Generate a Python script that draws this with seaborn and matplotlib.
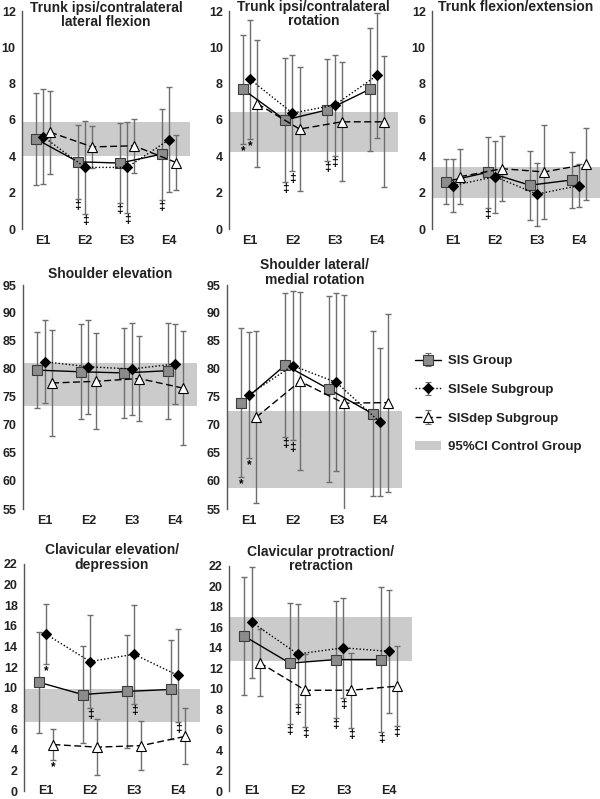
import numpy as np
import pandas as pd
import matplotlib
matplotlib.use("Agg")
import matplotlib.pyplot as plt
import seaborn as sns
from matplotlib.patches import Patch

# --- data ---
timepoints = ["E1", "E2", "E3", "E4"]
groups = ["SIS Group", "SISele Subgroup", "SISdep Subgroup"]
ci_label = "95%CI Control Group"

# rows: SIS, SISele, SISdep ; columns: E1..E4
latflex_mean = [[4.96, 3.70, 3.63, 4.12], [5.09, 3.39, 3.39, 4.91], [5.33, 4.52, 4.58, 3.66]]
latflex_sd = [[2.52, 2.04, 2.20, 2.50], [2.60, 2.54, 2.50, 2.90], [2.28, 1.15, 1.50, 1.50]]
latflex_ci = (4.03, 5.90)
latflex_sig = [(0, 1, "‡"), (1, 1, "‡"), (0, 2, "‡"), (1, 2, "‡"), (0, 3, "‡")]

rot_mean = [[7.69, 6.00, 6.56, 7.69], [8.24, 6.38, 6.82, 8.45], [6.90, 5.50, 5.90, 5.90]]
rot_sd = [[3.00, 3.40, 2.80, 3.40], [3.26, 3.20, 2.78, 3.44], [3.50, 3.40, 3.28, 3.60]]
rot_ci = (4.24, 6.42)
rot_sig = [(0, 0, "*"), (1, 0, "*"), (0, 1, "‡"), (1, 1, "‡"), (0, 2, "‡"), (1, 2, "‡")]

flexext_mean = [[2.61, 3.12, 2.41, 2.70], [2.39, 2.88, 1.92, 2.39], [2.88, 3.32, 3.14, 3.56]]
flexext_sd = [[1.26, 1.95, 1.90, 1.56], [1.48, 1.98, 1.73, 1.18], [1.50, 1.80, 2.60, 1.98]]
flexext_ci = (1.68, 3.39)
flexext_sig = [(0, 1, "‡")]

shelev_mean = [[79.8, 79.5, 79.3, 79.7], [81.3, 80.4, 80.0, 80.9], [77.5, 77.8, 78.3, 76.6]]
shelev_sd = [[6.85, 8.45, 8.10, 8.55], [7.40, 8.35, 8.30, 7.20], [9.50, 8.55, 7.60, 10.2]]
shelev_ci = (73.4, 81.0)
shelev_sig = []

shrot_mean = [[74.0, 80.7, 76.4, 72.0], [75.4, 80.6, 77.6, 70.5], [71.4, 77.8, 73.9, 74.0]]
shrot_sd = [[13.25, 12.8, 16.6, 14.7], [11.25, 13.3, 15.9, 13.25], [15.3, 15.9, 19.3, 15.9]]
shrot_ci = (58.8, 72.5)
shrot_sig = [(0, 0, "*"), (1, 0, "*"), (0, 1, "‡"), (1, 1, "‡")]

clelev_mean = [[10.55, 9.35, 9.65, 9.84], [15.2, 12.55, 13.25, 11.2], [4.50, 4.25, 4.40, 5.30]]
clelev_sd = [[4.90, 4.70, 5.50, 4.80], [2.90, 4.47, 4.80, 4.50], [1.50, 2.70, 2.40, 2.70]]
clelev_ci = (6.70, 9.84)
clelev_sig = [(1, 0, "*"), (2, 0, "*"), (1, 1, "‡"), (1, 2, "‡"), (1, 3, "‡")]

clprot_mean = [[15.15, 12.5, 12.85, 12.85], [16.5, 13.4, 14.0, 13.65], [12.55, 9.85, 9.85, 10.25]]
clprot_sd = [[5.80, 5.90, 5.70, 7.05], [5.45, 4.85, 4.90, 6.05], [3.30, 3.55, 3.65, 3.90]]
clprot_ci = (12.7, 17.05)
clprot_sig = [(0, 1, "‡"), (1, 1, "‡"), (2, 1, "‡"), (0, 2, "‡"), (1, 2, "‡"), (2, 2, "‡"),
              (0, 3, "‡"), (2, 3, "‡")]

# --- style ---
sns.set_style("white")
plt.rcParams["font.family"] = ["Liberation Sans", "DejaVu Sans"]
plt.rcParams["font.weight"] = "bold"

W, H = 600, 799
band_color = "#cbcbcb"
err_color = "#6e6e6e"
text_color = "#222222"

styles = [
    dict(marker="s", mfc="#8c8c8c", mec="#3c3c3c", ls="-", ms=6.5, dx=-0.17),
    dict(marker="D", mfc="black", mec="black", ls=(0, (1, 1.5)), ms=5.0, dx=0.0),
    dict(marker="^", mfc="white", mec="black", ls=(0, (5, 2.5)), ms=7.0, dx=0.17),
]

fig = plt.figure(figsize=(W / 100, H / 100), dpi=100)


def px_axes(l, t, r, b):
    return fig.add_axes([l / W, 1 - b / H, (r - l) / W, (b - t) / H])


def draw_panel(box, means, sds, ci, sig, yticks, title, title_y, xpad):
    ax = px_axes(*box)
    ax.axhspan(ci[0], ci[1], color=band_color, lw=0, zorder=0)
    x = np.arange(len(timepoints))
    for g in range(len(groups)):
        st = styles[g]
        xs = x + st["dx"]
        ax.errorbar(xs, means[g], yerr=sds[g], fmt="none", ecolor=err_color,
                    elinewidth=1, capsize=2.5, capthick=1, zorder=2)
        df = pd.DataFrame({"x": xs, "y": means[g]})
        sns.lineplot(data=df, x="x", y="y", ax=ax, color="black", linestyle=st["ls"],
                     lw=1, marker=st["marker"], markersize=st["ms"],
                     markerfacecolor=st["mfc"], markeredgecolor=st["mec"],
                     markeredgewidth=0.8, zorder=3 + g)
    for g, t, sym in sig:
        xs = t + styles[g]["dx"]
        ax.annotate(sym, (xs, means[g][t] - sds[g][t]), xytext=(0, -1),
                    textcoords="offset points", ha="center", va="top",
                    fontsize=8.5, color="black")
    ax.set_xlim(-0.5, 3.5)
    ax.set_ylim(yticks[0], yticks[-1])
    ax.set_yticks(yticks)
    ax.set_xticks(x)
    ax.set_xticklabels(timepoints)
    ax.set_xlabel("")
    ax.set_ylabel("")
    sns.despine(ax=ax, bottom=True)
    ax.spines["left"].set_color("#555555")
    ax.spines["left"].set_linewidth(1)
    ax.tick_params(axis="y", direction="out", length=3, width=1, color="#555555",
                   pad=1.5, labelsize=9, labelcolor=text_color)
    ax.tick_params(axis="x", length=0, pad=xpad, labelsize=9, labelcolor=text_color)
    cx = (box[0] + box[2]) / 2
    fig.text(cx / W, 1 - title_y / H, title, ha="center", va="center",
             fontsize=10, linespacing=1.05, color=text_color)
    return ax


y12 = np.arange(0, 13, 2)
y95 = np.arange(55, 96, 5)
y22 = np.arange(0, 23, 2)

draw_panel((22, 11, 190, 229), latflex_mean, latflex_sd, latflex_ci, latflex_sig, y12,
           "Trunk ipsi/contralateral\nlateral flexion", 15, 4)
draw_panel((229, 11, 398, 229), rot_mean, rot_sd, rot_ci, rot_sig, y12,
           "Trunk ipsi/contralateral\nrotation", 14, 4)
draw_panel((432, 11, 600, 229), flexext_mean, flexext_sd, flexext_ci, flexext_sig, y12,
           "Trunk flexion/extension", 7, 4)
draw_panel((23, 285, 197, 509), shelev_mean, shelev_sd, shelev_ci, shelev_sig, y95,
           "Shoulder elevation", 274, 4.5)
draw_panel((227, 285, 402, 509), shrot_mean, shrot_sd, shrot_ci, shrot_sig, y95,
           "Shoulder lateral/\nmedial rotation", 272.5, 4.5)
draw_panel((24, 564, 200, 791), clelev_mean, clelev_sd, clelev_ci, clelev_sig, y22,
           "Clavicular elevation/\ndepression", 557.5, -4)
draw_panel((229, 566, 412, 791), clprot_mean, clprot_sd, clprot_ci, clprot_sig, y22,
           "Clavicular protraction/\nretraction", 559, -4)

# legend built on a hidden axes
lax = fig.add_axes([0.68, 0.4, 0.3, 0.2])
lax.set_axis_off()
handles = []
for g, name in enumerate(groups):
    st = styles[g]
    h = lax.errorbar([np.nan], [np.nan], yerr=[np.nan], color="black", ls=st["ls"], lw=1,
                     marker=st["marker"], ms=st["ms"], mfc=st["mfc"], mec=st["mec"],
                     mew=0.8, ecolor=err_color, elinewidth=1, capsize=2.5, label=name)
    handles.append(h)
handles.append(Patch(facecolor=band_color, edgecolor="none", label=ci_label))
fig.legend(handles=handles, loc="upper left", bbox_to_anchor=(415 / W, 1 - 355 / H),
           frameon=False, fontsize=9.5, handlelength=2.0, handletextpad=0.5,
           labelspacing=1.25, borderpad=0, borderaxespad=0, labelcolor=text_color)

fig.savefig("out.png", dpi=100)
